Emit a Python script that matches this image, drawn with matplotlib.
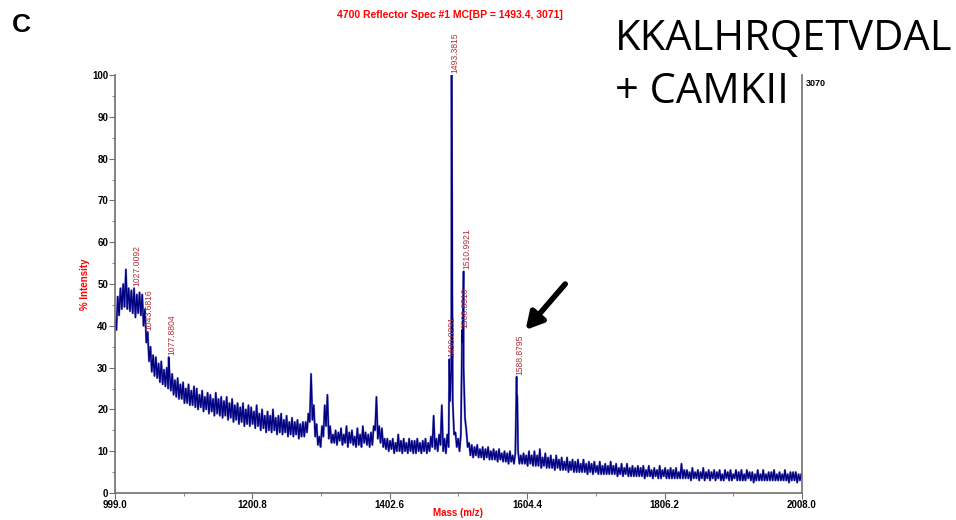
import numpy as np
import matplotlib.pyplot as plt
from matplotlib.ticker import MultipleLocator, FixedLocator

# spectrum: top of the noise at 999, 1003, 1007 ... (every 4 Da)
upper = [
    41.5, 47, 49, 50, 53.5, 49, 48.5, 49, 47.5, 48,         # 999
    47.5, 44, 38.5, 35, 33, 32.5, 31, 31.5, 29.5, 30,       # 1039
    29, 28.5, 27, 27.5, 26, 26.5, 25, 26, 24.5, 25.5,       # 1079
    25, 23.5, 24.5, 23, 24, 23.5, 22.5, 24, 22.5, 23,       # 1119
    22, 23, 21.5, 22.5, 21, 21.5, 20.5, 21.5, 20, 21,       # 1159
    20.5, 19.5, 21, 19, 20, 18.5, 19.5, 18.5, 20, 18,       # 1199
    18.5, 19, 17.5, 18.5, 17, 18, 17, 17.5, 16.5, 17,       # 1239
    17, 19, 28.5, 21, 16.5, 13.5, 16, 21, 23.5, 16,         # 1279
    14, 15, 14.5, 15.5, 14, 16, 14.5, 15, 13.5, 15.5,       # 1319
    14, 16, 14.5, 14, 14.5, 16, 23, 16, 15.5, 13,           # 1359
    13, 12.5, 13, 12, 14, 12.5, 13, 12, 13, 12.5,           # 1399
    12.5, 13, 12, 12.5, 13, 12, 13.5, 18.5, 13, 14,         # 1439
    21, 13, 14, 22, 22, 14.5, 13, 14, 30, 15,               # 1479
    12, 11.5, 11, 11.5, 10.5, 11, 10.5, 11, 10, 10.5,       # 1519
    10, 10.5, 9.5, 10, 9.5, 10, 9, 9.5, 10, 9,              # 1559
    9.5, 9, 10, 9, 10, 9, 10.5, 8.5, 9.5, 8.5,              # 1599
    9, 8, 9, 8, 8.5, 7.5, 8.5, 7.5, 8, 7.5,                 # 1639
    8, 7, 8, 7, 7.5, 7, 7.5, 6.5, 7.5, 6.5,                 # 1679
    7, 6.5, 7.5, 6.5, 7, 6, 7, 6, 7, 6,                     # 1719
    6.5, 6, 6.5, 6, 6.5, 5.5, 6.5, 5.5, 6, 5.5,             # 1759
    6.5, 5.5, 6, 5.5, 6, 5.5, 6, 5, 7, 5.5,                 # 1799
    5.5, 5, 6, 5, 5.5, 5, 6, 5, 5.5, 5,                     # 1839
    5.5, 5, 5.5, 4.5, 5.5, 5, 5.5, 4.5, 5.5, 5,             # 1879
    5.5, 4.5, 5.5, 5, 5, 4.5, 5.5, 4.5, 5.5, 4.5,           # 1919
    5, 5, 5.5, 4.5, 5, 4.5, 5.5, 4.5, 5, 5,                 # 1959
    5, 4.5, 4.5,                                            # 1999
]

# bottom of the noise at 1001, 1005, 1009 ... (every 4 Da)
lower = [
    39, 42.5, 44, 44.5, 44, 43.5, 43, 42, 43, 42.5,         # 1001
    40, 36, 31.5, 29, 28, 27.5, 26.5, 26, 25.5, 25,         # 1041
    24.5, 23.5, 23, 22.5, 22.5, 21.5, 21.5, 21, 21, 20.5,   # 1081
    20, 20.5, 19.5, 20, 19, 19.5, 18.5, 19, 18.5, 18,       # 1121
    18.5, 17.5, 18, 17, 17.5, 16.5, 17, 16, 16.5, 16,       # 1161
    16.5, 15.5, 16, 15, 15.5, 14.5, 15, 14.5, 15, 14,       # 1201
    14.5, 14, 14.5, 13.5, 14, 13.5, 14, 13, 13.5, 13.5,     # 1241
    14.5, 17, 17.5, 13.5, 11.5, 11, 13.5, 16, 13, 12,       # 1281
    12, 11.5, 12.5, 11.5, 12, 11, 12, 11.5, 11, 11.5,       # 1321
    11, 12, 11.5, 11, 11.5, 15, 13, 12, 11, 10.5,           # 1361
    10, 10.5, 9.5, 10, 10, 9.5, 10, 9.5, 10, 9.5,           # 1401
    9.5, 10, 9.5, 10, 9.5, 10, 11, 10.5, 10, 11.5,          # 1441
    10, 9.5, 11, 30, 14, 11, 10, 36, 18, 11,                # 1481
    9, 8.5, 9, 8.5, 8.5, 8, 8.5, 8, 8, 8,                   # 1521
    7.5, 8, 7.5, 7.5, 7, 7.5, 7, 24, 7, 7,                  # 1561
    7, 6.5, 7, 6.5, 6.5, 6.5, 6, 6.5, 6, 6,                 # 1601
    6, 5.5, 6, 5.5, 5.5, 5.5, 5, 5.5, 5, 5,                 # 1641
    5, 5, 5, 4.5, 5, 4.5, 5, 4.5, 4.5, 4.5,                 # 1681
    4.5, 4.5, 4.5, 4.5, 4, 4.5, 4, 4.5, 4, 4,               # 1721
    4, 4, 4, 4, 3.5, 4, 4, 3.5, 4, 3.5,                     # 1761
    3.5, 4, 3.5, 3.5, 3.5, 3.5, 3.5, 3.5, 3.5, 3.5,         # 1801
    3.5, 3, 3.5, 3.5, 3, 3.5, 3, 3.5, 3, 3.5,               # 1841
    3, 3.5, 3, 3, 3.5, 3, 3, 3.5, 3, 3,                     # 1881
    3, 3, 3.5, 3, 2.5, 3, 3, 3, 3, 3,                       # 1921
    3, 3, 3, 3, 3, 3, 3, 2.5, 3, 3,                         # 1961
    2.5, 3,                                                 # 2001
]

# sharp peaks on top of the trace
peak_mz = [1077.88, 1490.03, 1493.38, 1494.38, 1508.85, 1509.9, 1510.99, 1588.88, 1589.88]
peak_int = [32.5, 32, 100, 49, 39, 40, 53, 27.8, 23]

# labelled peaks and the height where each label starts
label_mz = [1027.0092, 1043.6816, 1077.8804, 1490.0291, 1493.3815, 1508.8510, 1510.9921, 1588.8795]
label_int = [49, 38.5, 32.5, 32, 100, 39, 53, 27.8]

x_ticks = [999.0, 1200.8, 1402.6, 1604.4, 1806.2, 2008.0]

mz_up = 999.0 + 4.0 * np.arange(len(upper))
mz_lo = 1001.0 + 4.0 * np.arange(len(lower))
mz = np.concatenate([mz_up, mz_lo, peak_mz])
inten = np.concatenate([upper, lower, peak_int])
order = np.argsort(mz)
mz, inten = mz[order], inten[order]

narrow = ['Liberation Sans Narrow', 'Liberation Sans', 'DejaVu Sans']

fig = plt.figure(figsize=(9.56, 5.2), dpi=100)
ax = fig.add_axes([0.1203, 0.0519, 0.7186, 0.8038])

ax.plot(mz, inten, color='#8c8cd2', lw=1.6)
ax.plot(mz, inten, color='#000080', lw=1.0)

for m, h in zip(label_mz, label_int):
    ax.text(m + 4.5, h + 0.5, '%.4f' % m, rotation=90, ha='center', va='bottom',
            color='#b0303a', fontsize=6.2, family=narrow)

ax.set_xlim(999.0, 2008.0)
ax.set_ylim(0, 100)
ax.xaxis.set_major_locator(FixedLocator(x_ticks))
ax.xaxis.set_minor_locator(FixedLocator([(a + b) / 2 for a, b in zip(x_ticks[:-1], x_ticks[1:])]))
ax.set_xticklabels(['%.1f' % t for t in x_ticks])
ax.yaxis.set_major_locator(MultipleLocator(10))
ax.yaxis.set_minor_locator(MultipleLocator(5))

for s in ['left', 'bottom', 'right']:
    ax.spines[s].set_color('#707070')
    ax.spines[s].set_linewidth(1.2)
ax.spines['top'].set_visible(False)
ax.tick_params(which='both', color='#707070', direction='out')
ax.tick_params(which='major', length=4, labelsize=7, pad=1)
ax.tick_params(which='minor', length=2.5)
for lab in ax.get_xticklabels() + ax.get_yticklabels():
    lab.set_family(narrow)
    lab.set_fontweight('bold')

ax.set_xlabel('Mass (m/z)', color='red', fontsize=7, fontweight='bold', family=narrow)
ax.set_ylabel('% Intensity', color='red', fontsize=7, fontweight='bold', family=narrow)
ax.xaxis.set_label_coords(0.5, -0.036)
ax.yaxis.set_label_coords(-0.036, 0.5)

ax.text(1.006, 0.99, '3070', transform=ax.transAxes, fontsize=6.5, fontweight='bold',
        family=narrow, va='top', ha='left')

fig.text(0.471, 0.972, '4700 Reflector Spec #1 MC[BP = 1493.4, 3071]', color='red',
         fontsize=7.5, fontweight='bold', family=narrow, ha='center', va='center')
fig.text(0.012, 0.952, 'C', fontsize=19, fontweight='bold', family=['Liberation Sans'],
         ha='left', va='center')
fig.text(0.643, 0.904, 'KKALHRQETVDAL', fontsize=30, family=['Open Sans'], ha='left', va='baseline')
fig.text(0.643, 0.802, '+ CAMKII', fontsize=30, family=['Open Sans'], ha='left', va='baseline')

ax.annotate('', xy=(0.595, 0.385), xytext=(0.658, 0.505), xycoords='axes fraction',
            arrowprops=dict(arrowstyle='-|>,head_length=1.0,head_width=0.55', color='black', lw=4))

fig.savefig('out.png', dpi=100)
